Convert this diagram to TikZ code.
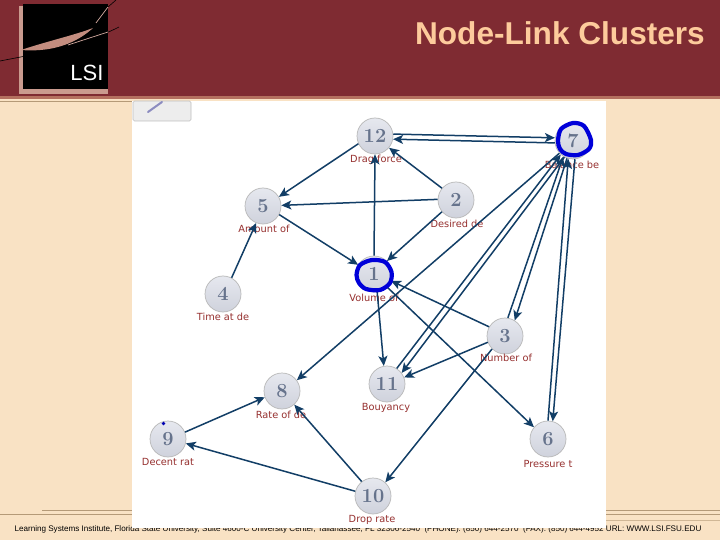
\documentclass[tikz,border=0pt]{standalone}
\usepackage{fontspec}
\setmainfont{Liberation Sans}
\newfontfamily\labelfont{DejaVu Sans}
\newfontfamily\numfont{Latin Modern Roman}
\usetikzlibrary{arrows.meta}
\definecolor{sandbg}{HTML}{F9E2C4}
\definecolor{bandred}{HTML}{7F2B32}
\definecolor{bandline}{HTML}{B4705F}
\definecolor{edgeblue}{HTML}{123E66}
\definecolor{labelred}{HTML}{96302F}
\definecolor{numgray}{HTML}{66738C}
\definecolor{nodefill}{HTML}{E6E8EF}
\definecolor{nodeshade}{HTML}{CFD2DC}
\definecolor{titlepeach}{HTML}{FDCB9C}
\definecolor{ruletan}{HTML}{B59A78}
\tikzset{
  numnode/.style={circle, minimum size=36pt, inner sep=0pt, draw=black!28, line width=0.7pt,
    top color=nodefill, bottom color=nodeshade, text=numgray, font=\numfont\bfseries\fontsize{20}{20}\selectfont},
  linklabel/.style={inner sep=0pt, text=labelred, font=\labelfont\fontsize{9.8}{9.8}\selectfont},
  linkedge/.style={draw=edgeblue, line width=1.5pt, -{Stealth[length=10pt, width=9pt, inset=2.5pt]}},
  ringmark/.style={draw=blue!85!black, line width=4.2pt}
}
\begin{document}
\begin{tikzpicture}[x=1pt, y=1pt]
\useasboundingbox (0,-540) rectangle (720,0);
\fill[sandbg] (0,-540) rectangle (720,0);
\fill[bandred] (0,-96) rectangle (720,0);
\fill[bandline] (0,-99) rectangle (720,-96);
\draw[ruletan, line width=0.7pt] (0,-101) -- (132,-101);
\draw[ruletan, line width=0.7pt] (42,-510) -- (132,-510);
\draw[ruletan, line width=1.2pt] (0,-514.5) -- (132,-514.5);
\draw[ruletan, line width=1pt] (606,-510) -- (720,-510);
\draw[ruletan, line width=1.2pt] (606,-514.5) -- (720,-514.5);
\draw[ruletan!60!sandbg, line width=0.8pt] (606,-520) -- (720,-520);
\fill[bandline!70!white] (19,-94) rectangle (108,-89);
\fill[bandline!70!white] (19,-94) rectangle (23,-6);
\fill[black] (23,-89) rectangle (108,-4);
\fill[bandline!80!white] (21,-50) .. controls (48,-41) and (75,-35) .. (93,-28) .. controls (82,-38) and (60,-53) .. (21,-50) -- cycle;
\draw[black, line width=0.6pt] (0,-61) .. controls (25,-56) and (80,-47) .. (119,-27);
\draw[bandline!60!white, line width=0.7pt] (68,-45) -- (108,-32);
\draw[bandline!60!white, line width=0.7pt] (96,-23) -- (108,-7);
\draw[black, line width=0.6pt] (108,-7) -- (116,0);
\node (lsilogo) at (87,-73) [text=white, font=\fontsize{22}{22}\selectfont, inner sep=0pt] {LSI};
\node (slidetitle) at (705,-33) [anchor=east, inner sep=0pt, text=titlepeach, font=\bfseries\fontsize{31.6}{31.6}\selectfont] {Node-Link Clusters};
\node (footertext) at (358,-529.5) [inner sep=0pt, text=black, font=\fontsize{8.1}{8.1}\selectfont] {Learning Systems Institute, Florida State University, Suite 4600-C University Center, Tallahassee, FL 32306-2540 \ (PHONE): (850) 644-2570 \ (FAX): (850) 644-4952 URL: WWW.LSI.FSU.EDU};
\fill[white] (132,-528) rectangle (606,-101);
\fill[black!7, draw=black!25, line width=0.6pt, rounded corners=1.5pt] (133,-121) rectangle (191,-101);
\draw[blue!45!black!45, line width=2pt, line cap=round] (148,-112) -- (162,-102);
\node[numnode] (n12) at (375,-136) {12};
\node[numnode] (n7) at (573,-141) {7};
\node[numnode] (n2) at (456,-200) {2};
\node[numnode] (n5) at (263,-206) {5};
\node[numnode] (n1) at (374,-274) {1};
\node[numnode] (n4) at (223,-294) {4};
\node[numnode] (n3) at (505,-336) {3};
\node[numnode] (n11) at (387,-384) {11};
\node[numnode] (n8) at (282,-391) {8};
\node[numnode] (n9) at (168,-439) {9};
\node[numnode] (n6) at (548,-439) {6};
\node[numnode] (n10) at (373,-496) {10};
\node[linklabel] (l12) at (376,-160) {Drag force};
\node[linklabel] (l7) at (572,-165) {Balance be};
\node[linklabel] (l2) at (457,-224) {Desired de};
\node[linklabel] (l5) at (264,-229) {Amount of};
\node[linklabel] (l1) at (374,-298) {Volume of};
\node[linklabel] (l4) at (223,-317) {Time at de};
\node[linklabel] (l3) at (506,-358) {Number of};
\node[linklabel] (l11) at (386,-408) {Bouyancy};
\node[linklabel] (l8) at (281,-415) {Rate of de};
\node[linklabel] (l9) at (168,-462) {Decent rat};
\node[linklabel] (l6) at (548,-464) {Pressure t};
\node[linklabel] (l10) at (372,-520) {Drop rate};
\draw[linkedge] (n12.6) -- (n7.170);
\draw[linkedge] (n7.186) -- (n12.-10);
\draw[linkedge] (n12.205) -- (n5.30);
\draw[linkedge] (n2.140) -- (n12.-40);
\draw[linkedge] (n2.178) -- (n5.2);
\draw[linkedge] (n2.220) -- (n1.45);
\draw[linkedge] (n1.90) -- (n12.-90);
\draw[linkedge] (n5.-28) -- (n1.150);
\draw[linkedge] (n4.62) -- (n5.-112);
\draw[linkedge] (n3.150) -- (n1.-22);
\draw[linkedge] (n7.222) -- (n8.36);
\draw[linkedge] (n11.58) -- (n7.228);
\draw[linkedge] (n7.242) -- (n11.37);
\draw[linkedge] (n3.81) -- (n7.238);
\draw[linkedge] (n7.251) -- (n3.58);
\draw[linkedge] (n6.90) -- (n7.255);
\draw[linkedge] (n7.276) -- (n6.75);
\draw[linkedge] (n3.200) -- (n11.21);
\draw[linkedge] (n3.225) -- (n10.48);
\draw[linkedge] (n1.-80) -- (n11.100);
\draw[linkedge] (n1.-45) -- (n6.140);
\draw[linkedge] (n10.128) -- (n8.-48);
\draw[linkedge] (n10.165) -- (n9.-14);
\draw[linkedge] (n9.22) -- (n8.-160);
\draw[ringmark] plot[smooth cycle] coordinates {(356.5,-275) (360,-265) (372,-260) (385,-262) (391.5,-272) (390,-283) (380,-290) (366,-289) (359,-283)};
\draw[ringmark] plot[smooth cycle] coordinates {(558,-141) (561,-129) (573,-123) (584,-126) (591,-140) (589,-149) (578,-155) (566,-154) (560,-149)};
\fill[blue!70!black] (163.5,-423.5) circle (1.8);
\end{tikzpicture}
\end{document}
